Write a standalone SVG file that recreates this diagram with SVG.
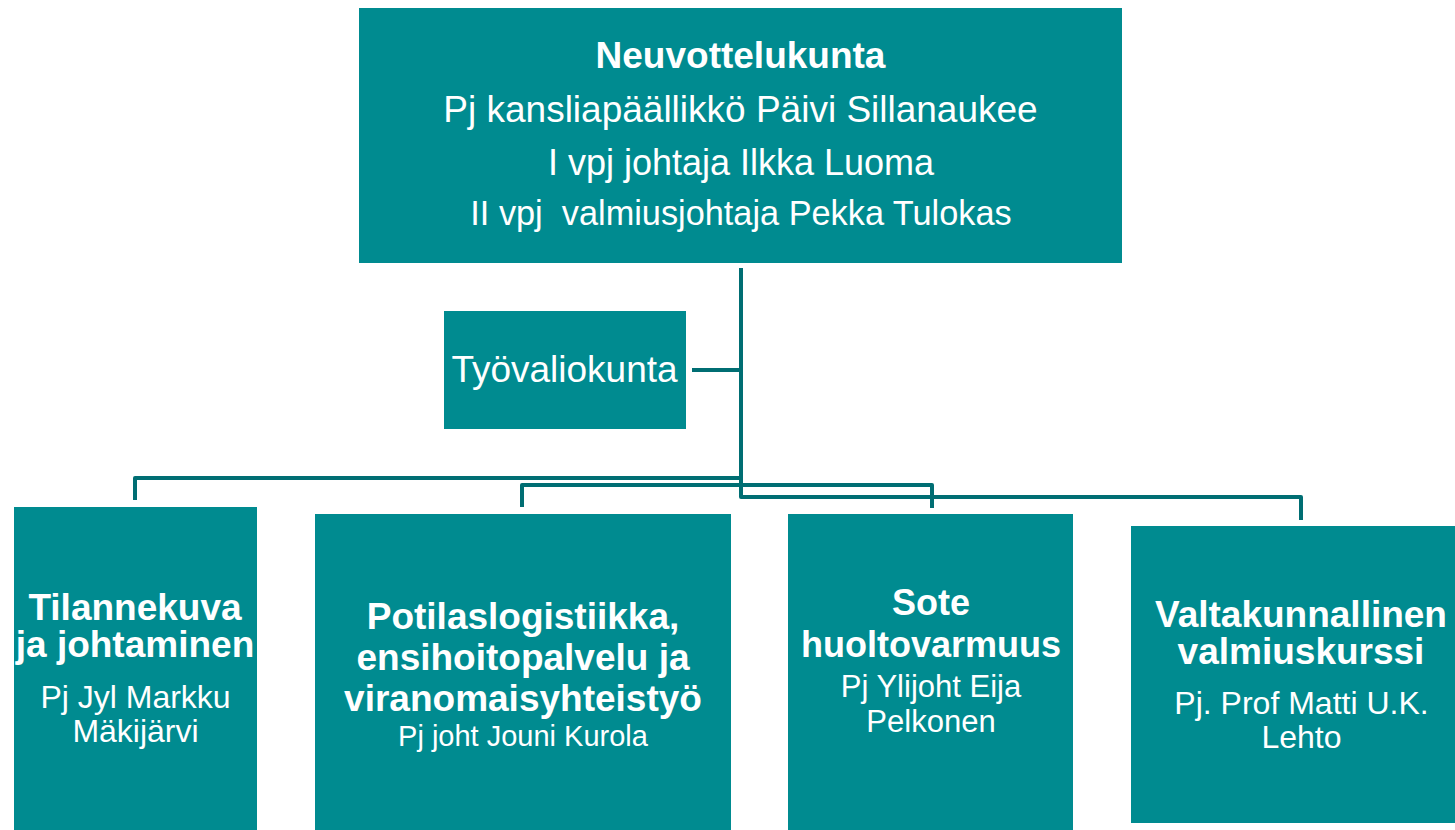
<svg xmlns="http://www.w3.org/2000/svg" width="1455" height="830" viewBox="0 0 1455 830">
<style>
.box{fill:#008b90;}
.t{font-family:"Liberation Sans",Arial,sans-serif;fill:#ffffff;text-anchor:middle;}
.b{font-weight:bold;}
.conn{fill:none;stroke:#006e73;stroke-width:4;stroke-linejoin:round;}
</style>
<rect width="1455" height="830" fill="#ffffff"/>
<g id="connectors">
<path class="conn" d="M741,268 V497 H1301 V520"/>
<path class="conn" d="M692,370 H741"/>
<path class="conn" d="M741,478 H135 V500"/>
<path class="conn" d="M522,507 V485 H932 V508"/>
</g>
<g id="neuvottelukunta">
<rect class="box" x="359" y="8" width="763" height="255"/>
<text class="t b" x="740.5" y="68" font-size="37">Neuvottelukunta</text>
<text class="t" x="740.5" y="122" font-size="37">Pj kansliapäällikkö Päivi Sillanaukee</text>
<text class="t" x="741" y="174.5" font-size="36">I vpj johtaja Ilkka Luoma</text>
<text class="t" x="741" y="225" font-size="34.3" xml:space="preserve">II vpj  valmiusjohtaja Pekka Tulokas</text>
</g>
<g id="tyovaliokunta">
<rect class="box" x="444" y="311" width="242" height="118"/>
<text class="t" x="564.5" y="382" font-size="37">Työvaliokunta</text>
</g>
<g id="tilannekuva">
<rect class="box" x="14" y="507" width="243" height="330"/>
<text class="t b" x="135" y="620" font-size="37">Tilannekuva</text>
<text class="t b" x="135" y="657" font-size="37">ja johtaminen</text>
<text class="t" x="135.5" y="708" font-size="32">Pj Jyl Markku</text>
<text class="t" x="135.5" y="742" font-size="32">Mäkijärvi</text>
</g>
<g id="potilaslogistiikka">
<rect class="box" x="315" y="514" width="416" height="320"/>
<text class="t b" x="523" y="629" font-size="37">Potilaslogistiikka,</text>
<text class="t b" x="523" y="670" font-size="37">ensihoitopalvelu ja</text>
<text class="t b" x="523" y="711" font-size="37">viranomaisyhteistyö</text>
<text class="t" x="523" y="746" font-size="29">Pj joht Jouni Kurola</text>
</g>
<g id="sote">
<rect class="box" x="788" y="514" width="285" height="320"/>
<text class="t b" x="931" y="615" font-size="36">Sote</text>
<text class="t b" x="931" y="657" font-size="36">huoltovarmuus</text>
<text class="t" x="931" y="697" font-size="31">Pj Ylijoht Eija</text>
<text class="t" x="931" y="732" font-size="31">Pelkonen</text>
</g>
<g id="valtakunnallinen">
<rect class="box" x="1131" y="526" width="340" height="297"/>
<text class="t b" x="1301" y="627" font-size="37">Valtakunnallinen</text>
<text class="t b" x="1301" y="664" font-size="37">valmiuskurssi</text>
<text class="t" x="1301.5" y="714" font-size="32">Pj. Prof Matti U.K.</text>
<text class="t" x="1301.5" y="748" font-size="32">Lehto</text>
</g>
</svg>
